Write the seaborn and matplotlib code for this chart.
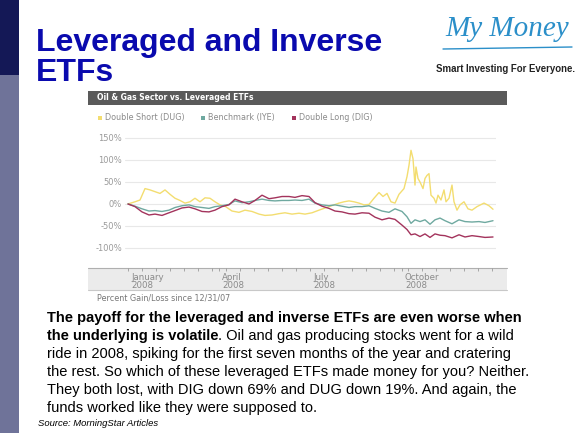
import numpy as np
import pandas as pd
import seaborn as sns
import matplotlib
matplotlib.use("Agg")
import matplotlib.pyplot as plt
from matplotlib.patches import Rectangle
from matplotlib.lines import Line2D
from matplotlib.transforms import ScaledTranslation

# ---------------- data (day of 2008, % gain/loss since 12/31/07) ----------------
dug_days = [0, 7, 12, 17, 22, 27, 32, 37, 42, 47, 52, 57, 62, 67, 72, 77, 82, 87, 92, 97,
            104, 111, 117, 124, 131, 137, 144, 151, 157, 164, 171, 177, 184, 191, 196, 201,
            206, 211, 216, 221, 226, 231, 236, 241, 246, 251, 255, 259, 263, 267, 271, 276,
            279, 281, 283, 285, 287, 288, 290, 292, 295, 297, 299, 301, 303, 306, 308, 310,
            313, 316, 318, 321, 324, 326, 329, 332, 336, 340, 344, 349, 356, 361, 365]
dug_vals = [0, 5, 9, 35, 32, 28, 24, 32, 22, 13, 8, 2, 5, 13, 5, 14, 13, 5, -2, -5,
            -16, -19, -14, -17, -23, -26, -25, -22, -20, -23, -21, -23, -20, -14, -10, -6,
            -2, 2, 5, 7, 5, 2, -2, -1, 13, 26, 17, 24, 5, 2, 22, 35,
            62, 88, 122, 103, 43, 84, 58, 50, 35, 58, 65, 69, 20, 13, 2, 20,
            9, 32, 5, 13, 43, 5, -14, -2, 5, -11, -14, -6, 2, -4, -12]

bench_days = [0, 7, 14, 21, 27, 34, 41, 47, 54, 61, 67, 74, 81, 87, 94, 101, 107, 114,
              121, 127, 134, 141, 147, 154, 161, 167, 174, 181, 187, 194, 201, 207, 214,
              221, 227, 234, 241, 247, 254, 261, 267, 274,
              279, 283, 287, 292, 297, 302, 307, 312, 317, 324, 331, 337, 344, 351, 357, 365]
iye_vals = [0, -5, -11, -16, -15, -17, -14, -8, -4, -2, -6, -8, -10, -6, -4, -1, 7, 3,
            5, 8, 11, 8, 7, 8, 8, 9, 8, 11, 2, -2, -4, -2, -5, -8, -6, -6, -4, -10, -16,
            -19, -11, -17,
            -29, -44, -36, -40, -36, -46, -36, -32, -38, -45, -36, -40, -41, -40, -42, -38]
dig_vals = [0, -6, -18, -25, -23, -26, -20, -15, -9, -7, -11, -17, -18, -14, -6, -2, 11, 5,
            0, 8, 20, 12, 14, 17, 17, 15, 19, 17, 3, -5, -10, -16, -18, -22, -23, -20, -21,
            -30, -36, -32, -35, -48,
            -58, -70, -68, -74, -68, -76, -68, -71, -72, -77, -70, -75, -72, -74, -76, -75]

series_names = ["Double Short (DUG)", "Benchmark (IYE)", "Double Long (DIG)"]
series_colors = ["#F3DD70", "#6FA9A0", "#A3335C"]
y_ticks = [-100, -50, 0, 50, 100, 150]
y_labels = ["-100%", "-50%", "0%", "50%", "100%", "150%"]
month_days = [0, 91, 182, 274]
month_labels = ["January\n2008", "April\n2008", "July\n2008", "October\n2008"]

chart_title = "Oil & Gas Sector vs. Leveraged ETFs"
x_caption = "Percent Gain/Loss since 12/31/07"

df = pd.concat([
    pd.DataFrame({"day": dug_days, "pct": dug_vals, "series": series_names[0]}),
    pd.DataFrame({"day": bench_days, "pct": iye_vals, "series": series_names[1]}),
    pd.DataFrame({"day": bench_days, "pct": dig_vals, "series": series_names[2]}),
], ignore_index=True)

# ---------------- figure ----------------
sns.set_style("white")
W, H = 580, 433
fig = plt.figure(figsize=(W / 100, H / 100), dpi=100)
fig.patch.set_facecolor("white")


def fx(px):
    return px / W


def fy(py):
    return 1 - py / H


def rect(x0, y0, x1, y1, color, z=-1):
    fig.patches.append(Rectangle((fx(x0), fy(y1)), fx(x1 - x0), (y1 - y0) / H,
                                 transform=fig.transFigure, facecolor=color,
                                 edgecolor="none", zorder=z))


def hline(x0, x1, y, color, lw=0.8):
    fig.lines.append(Line2D([fx(x0), fx(x1)], [fy(y), fy(y)], transform=fig.transFigure,
                            color=color, lw=lw, zorder=-0.5))


# left strip
rect(0, 0, 19, 75, "#141856")
rect(0, 75, 19, 433, "#6F7399")

# title
fig.text(fx(36), fy(51), "Leveraged and Inverse", fontsize=23, fontweight="bold",
         color="#0A0AAE", family="Liberation Sans", va="baseline", ha="left")
fig.text(fx(36), fy(81), "ETFs", fontsize=23, fontweight="bold",
         color="#0A0AAE", family="Liberation Sans", va="baseline", ha="left")

# logo
fig.text(fx(507), fy(29), "My Money", fontsize=21, style="italic", color="#2B8FC9",
         family="Liberation Serif", ha="center", va="center")
fig.lines.append(Line2D([fx(443), fx(572)], [fy(49), fy(47)], transform=fig.transFigure,
                        color="#2B8FC9", lw=1.0))
fig.text(fx(506), fy(69), "Smart Investing For Everyone.", fontsize=6.9,
         family="Liberation Sans", fontweight="bold", color="#222222",
         ha="center", va="center")

# chart header
rect(88, 91, 507, 105, "#5A5A5A")
fig.text(fx(97), fy(98), chart_title, fontsize=5.5, fontweight="bold", color="white",
         family="DejaVu Sans", va="center", ha="left")

# legend
leg_x = [100, 203, 294]
for x, name, col in zip(leg_x, series_names, series_colors):
    rect(x - 2, 116, x + 2, 120, col, z=2)
    fig.text(fx(x + 5), fy(118), name, fontsize=5.8, color="#8A8A8A",
             family="DejaVu Sans", va="center", ha="left")

# gray date band
rect(88, 268, 507, 290, "#EBEBEB")
hline(88, 507, 268, "#AFAFAF", 0.8)
hline(88, 507, 290, "#C8C8C8", 0.8)

fig.text(fx(97), fy(298), x_caption, fontsize=5.8, color="#777777",
         family="DejaVu Sans", va="center", ha="left")

# main plot axes
ax = fig.add_axes([fx(125), fy(268), fx(496 - 125), (268 - 128) / H])
ax.set_zorder(1)
ax.set_facecolor("none")
sns.lineplot(data=df, x="day", y="pct", hue="series", hue_order=series_names,
             palette=dict(zip(series_names, series_colors)), estimator=None,
             sort=False, linewidth=1.0, legend=False, ax=ax)
ax.set_xlim(-3, 368)
ax.set_ylim(-145.5, 172.7)
ax.set_yticks(y_ticks)
ax.set_yticklabels(y_labels)
ax.yaxis.grid(True, color="#E8E8E8", lw=0.8)
ax.set_axisbelow(True)
ax.xaxis.grid(False)
for s in ax.spines.values():
    s.set_visible(False)
ax.tick_params(axis="y", length=0, pad=2, labelsize=6, labelcolor="#9A9A9A")
ax.set_xticks(month_days)
ax.set_xticklabels(month_labels, ha="left", multialignment="left",
                   fontsize=6.2, color="#8A8A8A", linespacing=0.85)
ax.set_xticks(np.arange(0, 366, 14), minor=True)
ax.tick_params(axis="x", which="major", bottom=True, length=2, color="#9A9A9A",
               pad=1.5, width=0.6)
ax.tick_params(axis="x", which="minor", bottom=True, length=2, color="#9A9A9A", width=0.6)
off = ScaledTranslation(3 / 100, 0, fig.dpi_scale_trans)
for lab in ax.get_xticklabels():
    lab.set_transform(lab.get_transform() + off)
    lab.set_family("DejaVu Sans")
for lab in ax.get_yticklabels():
    lab.set_family("DejaVu Sans")
ax.set_xlabel("")
ax.set_ylabel("")

# body text
body_fs = 10.5
fam = "Liberation Sans"
lines_y = [318, 336, 354, 372, 390, 408]
fig.text(fx(47), fy(lines_y[0]), "The payoff for the leveraged and inverse ETFs are even worse when",
         fontsize=body_fs, fontweight="bold", family=fam, va="center", ha="left", color="black")
t_bold = fig.text(fx(47), fy(lines_y[1]), "the underlying is volatile",
                  fontsize=body_fs, fontweight="bold", family=fam, va="center", ha="left",
                  color="black")
fig.canvas.draw()
bb = t_bold.get_window_extent(renderer=fig.canvas.get_renderer())
fig.text(bb.x1 / W, fy(lines_y[1]), ". Oil and gas producing stocks went for a wild",
         fontsize=body_fs, family=fam, va="center", ha="left", color="black")
rest = ["ride in 2008, spiking for the first seven months of the year and cratering",
        "the rest. So which of these leveraged ETFs made money for you? Neither.",
        "They both lost, with DIG down 69% and DUG down 19%. And again, the",
        "funds worked like they were supposed to."]
for y, s in zip(lines_y[2:], rest):
    fig.text(fx(47), fy(y), s, fontsize=body_fs, family=fam, va="center", ha="left",
             color="black")

fig.text(fx(38), fy(424), "Source: MorningStar Articles", fontsize=6.8, style="italic",
         family=fam, va="center", ha="left", color="black")

fig.savefig("out.png", dpi=100, facecolor="white")
